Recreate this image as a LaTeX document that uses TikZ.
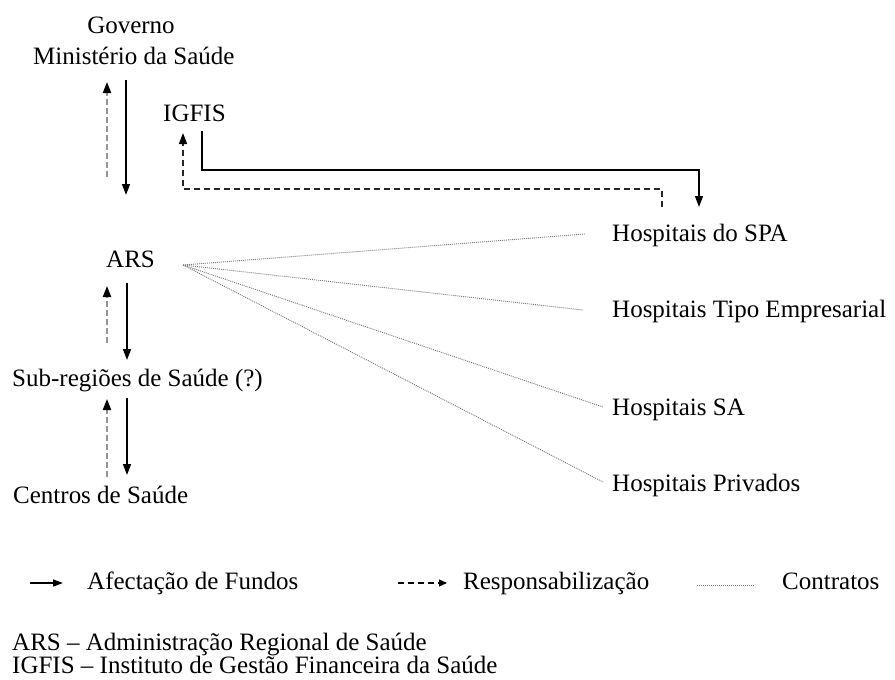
\documentclass[tikz,border=0pt]{standalone}
\usepackage{fontspec}
\setmainfont{Liberation Serif}
\usetikzlibrary{arrows.meta}
\definecolor{respgray}{RGB}{150,150,150}
\definecolor{contgray}{RGB}{120,120,120}
\tikzset{
  lbl/.style={inner sep=0pt, anchor=base west, font=\fontsize{25}{30}\selectfont},
  fund/.style={line width=1.5pt, -{Triangle[length=11pt,width=8pt]}},
  respv/.style={line width=2pt, respgray, dash pattern=on 6pt off 3pt, -{Triangle[length=11pt,width=8pt,fill=black,color=black]}},
  resp/.style={line width=1.5pt, black!85, dash pattern=on 6pt off 4pt, -{Triangle[length=11pt,width=8pt,fill=black,color=black]}},
  cont/.style={line width=0.9pt, contgray, dash pattern=on 1pt off 1pt},
}
\begin{document}
\begin{tikzpicture}[x=1pt,y=-1pt]
\useasboundingbox (0,0) rectangle (895,680);
% nodes
\node[lbl, anchor=base] (gov) at (131,34) {Governo};
\node[lbl] (min) at (33,64) {Ministério da Saúde};
\node[lbl] (igfis) at (163,121) {IGFIS};
\node[lbl] (ars) at (106,267) {ARS};
\node[lbl] (sub) at (12,386) {Sub-regiões de Saúde (?)};
\node[lbl] (cen) at (13,503) {Centros de Saúde};
\node[lbl] (spa) at (612,241) {Hospitais do SPA};
\node[lbl] (tipo) at (612,317) {Hospitais Tipo Empresarial};
\node[lbl] (hsa) at (612,415) {Hospitais SA};
\node[lbl] (priv) at (612,491) {Hospitais Privados};
% coordinates
\coordinate (m1s) at (126,80);  \coordinate (m1e) at (126,195);
\coordinate (r1s) at (107,177); \coordinate (r1e) at (107,82);
\coordinate (m2s) at (127,283); \coordinate (m2e) at (127,360);
\coordinate (r2s) at (107,343); \coordinate (r2e) at (107,286);
\coordinate (m3s) at (127,398); \coordinate (m3e) at (127,475);
\coordinate (r3s) at (107,477); \coordinate (r3e) at (107,399);
\coordinate (igs) at (202,131); \coordinate (igc) at (202,170);
\coordinate (hpc) at (699,170); \coordinate (hpe) at (699,207);
\coordinate (hrs) at (662,207); \coordinate (hrc) at (662,189);
\coordinate (irc) at (183,189); \coordinate (ire) at (183,133);
\coordinate (arso) at (183,265);
\coordinate (cspa) at (585,234);
\coordinate (ctipo) at (583,310);
\coordinate (chsa) at (603,407);
\coordinate (cpriv) at (603,482);
% vertical flows
\draw[respv] (r1s) -- (r1e);
\draw[fund] (m1s) -- (m1e);
\draw[respv] (r2s) -- (r2e);
\draw[fund] (m2s) -- (m2e);
\draw[respv] (r3s) -- (r3e);
\draw[fund] (m3s) -- (m3e);
% IGFIS flows
\draw[fund] (igs) -- (igc) -- (hpc) -- (hpe);
\draw[resp] (hrs) -- (hrc) -- (irc) -- (ire);
% contracts
\draw[cont] (arso) -- (cspa);
\draw[cont] (arso) -- (ctipo);
\draw[cont] (arso) -- (chsa);
\draw[cont] (arso) -- (cpriv);
% legend
\coordinate (l1s) at (30,583); \coordinate (l1e) at (63,583);
\coordinate (l2s) at (398,583); \coordinate (l2e) at (447,583);
\coordinate (l3s) at (697,585); \coordinate (l3e) at (755,585);
\draw[line width=1.5pt, -{Triangle[length=10pt,width=7pt]}] (l1s) -- (l1e);
\draw[line width=1.3pt, dash pattern=on 6pt off 4pt, -{Triangle[length=8pt,width=7pt]}] (l2s) -- (l2e);
\draw[cont, line width=0.7pt] (l3s) -- (l3e);
\node[lbl] (lg1) at (87,589) {Afectação de Fundos};
\node[lbl] (lg2) at (463,589) {Responsabilização};
\node[lbl] (lg3) at (782,589) {Contratos};
\node[lbl] (ab1) at (12,650) {ARS – Administração Regional de Saúde};
\node[lbl] (ab2) at (12,673) {IGFIS – Instituto de Gestão Financeira da Saúde};
\end{tikzpicture}
\end{document}
